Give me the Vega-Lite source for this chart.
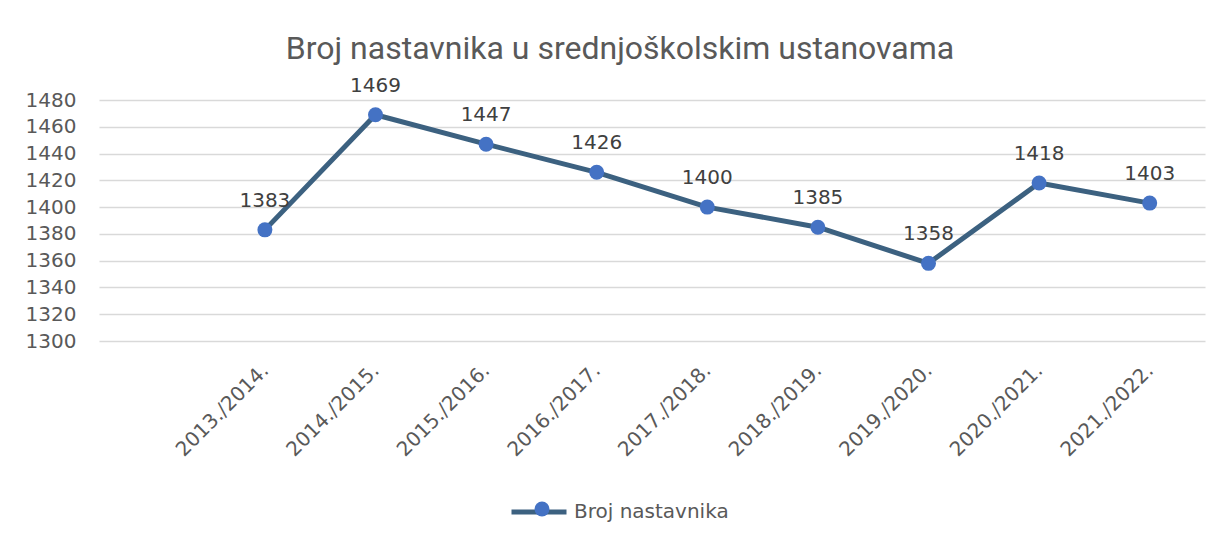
{
  "$schema": "https://vega.github.io/schema/vega-lite/v6.json",
  "width": 1106,
  "height": 241,
  "autosize": {"type": "none"},
  "padding": {"left": 99, "top": 100, "right": 24, "bottom": 201},
  "background": "white",
  "config": {"view": {"stroke": null}},
  "title": {
    "text": "Broj nastavnika u srednjoškolskim ustanovama",
    "font": "Roboto",
    "fontSize": 32,
    "fontWeight": "normal",
    "color": "#595959",
    "anchor": "middle",
    "dx": -32,
    "offset": 10
  },
  "data": {
    "values": [
      {"year": "2013./2014.", "value": 1383, "series": "Broj nastavnika"},
      {"year": "2014./2015.", "value": 1469, "series": "Broj nastavnika"},
      {"year": "2015./2016.", "value": 1447, "series": "Broj nastavnika"},
      {"year": "2016./2017.", "value": 1426, "series": "Broj nastavnika"},
      {"year": "2017./2018.", "value": 1400, "series": "Broj nastavnika"},
      {"year": "2018./2019.", "value": 1385, "series": "Broj nastavnika"},
      {"year": "2019./2020.", "value": 1358, "series": "Broj nastavnika"},
      {"year": "2020./2021.", "value": 1418, "series": "Broj nastavnika"},
      {"year": "2021./2022.", "value": 1403, "series": "Broj nastavnika"}
    ]
  },
  "encoding": {
    "x": {
      "field": "year",
      "type": "ordinal",
      "sort": null,
      "scale": {
        "type": "point",
        "padding": 0.5,
        "domain": [" ", "2013./2014.", "2014./2015.", "2015./2016.", "2016./2017.", "2017./2018.", "2018./2019.", "2019./2020.", "2020./2021.", "2021./2022."]
      },
      "axis": {
        "title": null,
        "labelAngle": -45,
        "labelAlign": "right",
        "labelBaseline": "middle",
        "labelFont": "DejaVu Sans",
        "labelFontSize": 20,
        "labelColor": "#595959",
        "labelPadding": 26,
        "ticks": false,
        "domain": false,
        "grid": false
      }
    },
    "y": {
      "field": "value",
      "type": "quantitative",
      "scale": {"domain": [1300, 1480], "nice": false, "zero": false},
      "axis": {
        "title": null,
        "format": "d",
        "values": [1300, 1320, 1340, 1360, 1380, 1400, 1420, 1440, 1460, 1480],
        "grid": true,
        "gridColor": "#d9d9d9",
        "gridWidth": 1.5,
        "domain": false,
        "ticks": false,
        "labelPadding": 23,
        "labelFont": "DejaVu Sans",
        "labelFontSize": 20,
        "labelColor": "#595959"
      }
    }
  },
  "layer": [
    {
      "mark": {"type": "line", "strokeWidth": 5, "strokeCap": "round", "strokeJoin": "round"},
      "encoding": {
        "color": {
          "field": "series",
          "type": "nominal",
          "scale": {"range": ["#3c6180"]},
          "legend": {
            "title": null,
            "orient": "none",
            "legendX": 410,
            "legendY": 382,
            "padding": 0,
            "symbolType": "stroke",
            "symbolSize": 3025,
            "symbolStrokeWidth": 5,
            "labelFont": "DejaVu Sans",
            "labelFontSize": 20,
            "labelColor": "#595959",
            "labelOffset": 5
          }
        }
      }
    },
    {
      "mark": {"type": "point", "filled": true, "size": 225, "opacity": 1, "shape": "circle"},
      "encoding": {
        "fill": {
          "field": "series",
          "type": "nominal",
          "scale": {"range": ["#4472c4"]},
          "legend": {
            "title": null,
            "orient": "none",
            "legendX": 433,
            "legendY": 399,
            "padding": 0,
            "symbolType": "circle",
            "symbolSize": 225,
            "symbolStrokeWidth": 0,
            "symbolOpacity": 1,
            "labelExpr": "''",
            "labelFont": "DejaVu Sans",
            "labelFontSize": 20
          }
        }
      }
    },
    {
      "mark": {"type": "text", "dy": -23, "baseline": "alphabetic", "font": "DejaVu Sans", "fontSize": 20, "color": "#404040"},
      "encoding": {
        "text": {"field": "value", "type": "quantitative"}
      }
    }
  ]
}
